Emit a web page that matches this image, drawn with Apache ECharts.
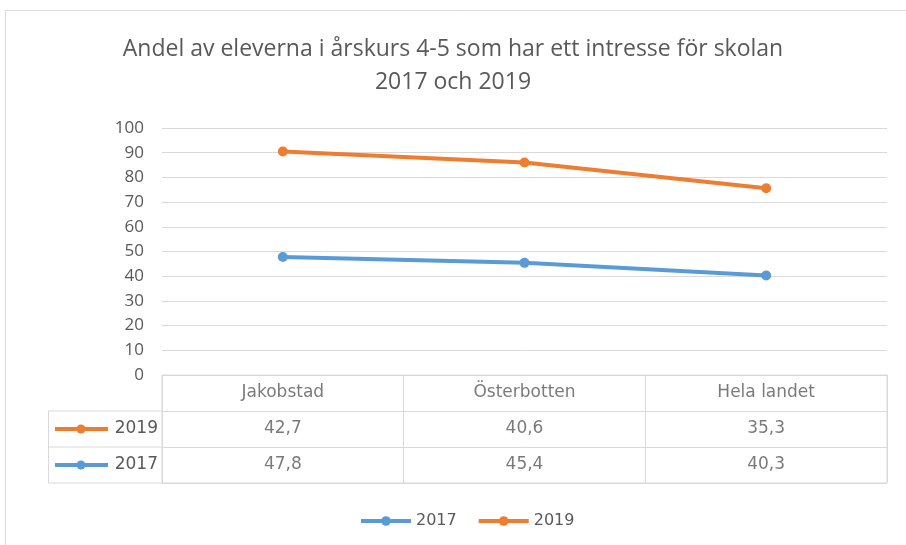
<!DOCTYPE html>
<html>
<head>
<meta charset="utf-8">
<script src="https://cdn.jsdelivr.net/npm/echarts@6/dist/echarts.min.js"></script>
<style>
  html, body { margin: 0; padding: 0; background: #fff; }
  #chart { width: 906px; height: 545px; }
</style>
</head>
<body>
<div id="chart"></div>
<script>
var categories = ['Jakobstad', 'Österbotten', 'Hela landet'];
var values2017 = [47.8, 45.4, 40.3];
var values2019 = [42.7, 40.6, 35.3];
var yTicks = [0, 10, 20, 30, 40, 50, 60, 70, 80, 90, 100];
var tableRows = ['2017', '2019', 'head'];

var blue = '#5B9BD5';
var orange = '#ED7D31';
var gridColor = '#d9d9d9';
var textColor = '#595959';
var tableFont = 'DejaVu Sans';

function fmt(v) {
    return v.toFixed(1).replace('.', ',');
}

// table cells: header row + two value rows
var cells = [];
categories.forEach(function (c, i) {
    cells.push([c, 'head', c]);
    cells.push([c, '2019', fmt(values2019[i])]);
    cells.push([c, '2017', fmt(values2017[i])]);
});

var chart = echarts.init(document.getElementById('chart'));

var option = {
    animation: false,
    title: {
        text: 'Andel av eleverna i årskurs 4-5 som har ett intresse för skolan\n2017 och 2019',
        left: 'center',
        top: 28,
        textStyle: {
            color: textColor,
            fontSize: 23,
            fontWeight: 'normal',
            fontFamily: 'Open Sans',
            lineHeight: 33
        }
    },
    legend: {
        data: ['2017', '2019'],
        left: 354,
        top: 508,
        itemWidth: 50,
        itemHeight: 12,
        itemGap: 20,
        lineStyle: { width: 4 },
        textStyle: { color: textColor, fontSize: 16, fontFamily: tableFont }
    },
    grid: [
        { left: 162, right: 19, top: 128, bottom: 170 },
        { left: 162, right: 19, top: 375, height: 108, show: true, borderColor: gridColor, borderWidth: 1 }
    ],
    xAxis: [
        {
            type: 'category', gridIndex: 0, data: categories, boundaryGap: true,
            axisLine: { show: false }, axisTick: { show: false }, axisLabel: { show: false }
        },
        {
            type: 'category', gridIndex: 1, data: categories, boundaryGap: true,
            axisLine: { show: false }, axisTick: { show: false }, axisLabel: { show: false },
            splitLine: { show: true, interval: 0, lineStyle: { color: gridColor, width: 1 } }
        }
    ],
    yAxis: [
        {
            type: 'value', gridIndex: 0, min: yTicks[0], max: yTicks[yTicks.length - 1], interval: 10,
            axisLine: { show: false }, axisTick: { show: false },
            axisLabel: { color: textColor, fontSize: 17, fontFamily: 'Open Sans', margin: 18 },
            splitLine: { lineStyle: { color: gridColor, width: 1 } }
        },
        {
            type: 'category', gridIndex: 1, data: tableRows,
            axisLine: { show: false }, axisTick: { show: false }, axisLabel: { show: false },
            splitLine: { show: true, interval: 0, lineStyle: { color: gridColor, width: 1 } }
        }
    ],
    series: [
        {
            name: '2017', type: 'line', stack: 'total', data: values2017,
            xAxisIndex: 0, yAxisIndex: 0,
            symbol: 'circle', symbolSize: 10,
            lineStyle: { color: blue, width: 4 },
            itemStyle: { color: blue }
        },
        {
            name: '2019', type: 'line', stack: 'total', data: values2019,
            xAxisIndex: 0, yAxisIndex: 0,
            symbol: 'circle', symbolSize: 10,
            lineStyle: { color: orange, width: 4 },
            itemStyle: { color: orange }
        },
        {
            type: 'scatter', xAxisIndex: 1, yAxisIndex: 1,
            data: cells, symbolSize: 0, silent: true,
            label: {
                show: true, position: 'inside',
                formatter: function (p) { return p.value[2]; },
                color: textColor, fontSize: 17, fontFamily: tableFont
            }
        }
    ]
};
chart.setOption(option);

// left column of the table (series keys), placed from the table axis
var rowH = chart.convertToPixel({ yAxisIndex: 1 }, '2017') - chart.convertToPixel({ yAxisIndex: 1 }, '2019');
var y2019 = chart.convertToPixel({ yAxisIndex: 1 }, '2019');
var y2017 = chart.convertToPixel({ yAxisIndex: 1 }, '2017');
var colL = 48, colR = 162;

function keyRow(y, color, name) {
    return [
        { type: 'line', shape: { x1: 55, y1: y, x2: 108, y2: y }, style: { stroke: color, lineWidth: 4 } },
        { type: 'circle', shape: { cx: 81, cy: y, r: 4.5 }, style: { fill: color } },
        {
            type: 'text', x: 158, y: y,
            style: { text: name, fill: textColor, fontSize: 17, fontFamily: tableFont, align: 'right', verticalAlign: 'middle' }
        }
    ];
}

chart.setOption({
    graphic: [
        { type: 'rect', shape: { x: 5.5, y: 10.5, width: 1000, height: 1000 }, style: { fill: 'none', stroke: gridColor }, silent: true },
        { type: 'rect', shape: { x: colL + 0.5, y: y2019 - rowH / 2, width: colR - colL, height: rowH * 2 }, style: { fill: 'none', stroke: gridColor } },
        { type: 'line', shape: { x1: colL, y1: y2019 + rowH / 2, x2: colR, y2: y2019 + rowH / 2 }, style: { stroke: gridColor } }
    ].concat(keyRow(y2019, orange, '2019'), keyRow(y2017, blue, '2017'))
});
</script>
</body>
</html>
